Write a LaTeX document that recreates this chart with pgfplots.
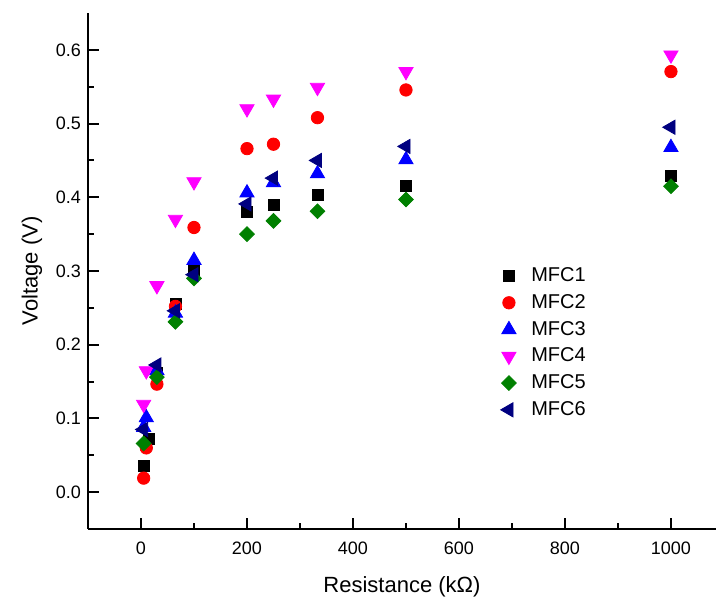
\documentclass[border=0pt]{standalone}
\usepackage{pgfplots}
\pgfplotsset{compat=1.18}
\usepackage{fontspec}
\setmainfont{Liberation Sans}
\definecolor{mfcgreen}{HTML}{008000}
\definecolor{mfcnavy}{HTML}{000080}
\definecolor{mfcred}{HTML}{FF0000}
\definecolor{mfcblue}{HTML}{0000FF}
\definecolor{mfcmag}{HTML}{FF00FF}
\begin{document}
\begin{tikzpicture}
\begin{axis}[
  scale only axis,
  width=314pt, height=258pt,
  xmin=-100, xmax=1085,
  ymin=-0.05, ymax=0.65,
  axis x line*=bottom, axis y line*=left,
  axis line style={line width=1pt,-},
  tick align=inside,
  major tick length=5.5pt, minor tick length=3pt,
  every tick/.style={black, line width=1pt},
  xtick={0,200,400,600,800,1000},
  minor x tick num=1,
  ytick={0,0.1,0.2,0.3,0.4,0.5,0.6},
  minor y tick num=1,
  xticklabel style={/pgf/number format/1000 sep={}, yshift=-2.8pt},
  yticklabel style={/pgf/number format/.cd, fixed, fixed zerofill, precision=1},
  /pgf/number format/assume math mode=true,
  tick label style={font=\fontsize{9}{11}\selectfont},
  label style={font=\fontsize{11}{13}\selectfont},
  xlabel={Resistance (kΩ)},
  xlabel style={yshift=-4pt},
  ylabel={Voltage (V)},
  legend style={at={(0.647,0.523)}, anchor=north west, draw=none, fill=none,
    font=\fontsize{10}{12}\selectfont, row sep=0.9pt, column sep=5.5pt},
  legend cell align=left,
]
\addplot[only marks, mark=square*, mark size=2.75pt, black, mark options={fill=black, draw=black}]
coordinates {(5,0.035) (15,0.072) (30,0.162) (65,0.2555) (100,0.302) (200,0.380) (250,0.389) (333,0.403) (500,0.416) (1000,0.429)};
\addlegendentry{MFC1}
\addplot[only marks, mark=*, mark size=3.1pt, mfcred, mark options={fill=mfcred, draw=mfcred}]
coordinates {(5,0.019) (10,0.060) (30,0.1465) (65,0.252) (100,0.359) (200,0.466) (250,0.472) (333,0.508) (500,0.5456) (1000,0.5705)};
\addlegendentry{MFC2}
\addplot[only marks, mark=triangle*, mark size=4.1pt, mfcblue, mark options={fill=mfcblue, draw=mfcblue}]
coordinates {(5,0.088) (10,0.101) (30,0.165) (65,0.243) (100,0.3145) (200,0.406) (250,0.420) (333,0.432) (500,0.451) (1000,0.4676)};
\addlegendentry{MFC3}
\addplot[only marks, mark=triangle*, mark size=4.1pt, mfcmag, mark options={fill=mfcmag, draw=mfcmag, rotate=180}]
coordinates {(5,0.119) (10,0.1646) (30,0.280) (65,0.370) (100,0.421) (200,0.520) (250,0.533) (333,0.549) (500,0.5705) (1000,0.593)};
\addlegendentry{MFC4}
\addplot[only marks, mark=square*, mark size=2.6pt, mfcgreen, mark options={fill=mfcgreen, draw=mfcgreen, rotate=45}]
coordinates {(5,0.066) (30,0.156) (65,0.231) (100,0.290) (200,0.350) (250,0.368) (333,0.381) (500,0.397) (1000,0.415)};
\addlegendentry{MFC5}
\addplot[only marks, mark=triangle*, mark size=4.1pt, mfcnavy, mark options={fill=mfcnavy, draw=mfcnavy, rotate=90}]
coordinates {(5,0.085) (30,0.1725) (65,0.246) (100,0.295) (200,0.391) (250,0.426) (333,0.450) (500,0.469) (1000,0.495)};
\addlegendentry{MFC6}
\end{axis}
\pgfresetboundingbox
\path ([xshift=-44pt,yshift=-36pt]current axis.south west) rectangle ([yshift=6.5pt]current axis.north east);
\end{tikzpicture}
\end{document}
